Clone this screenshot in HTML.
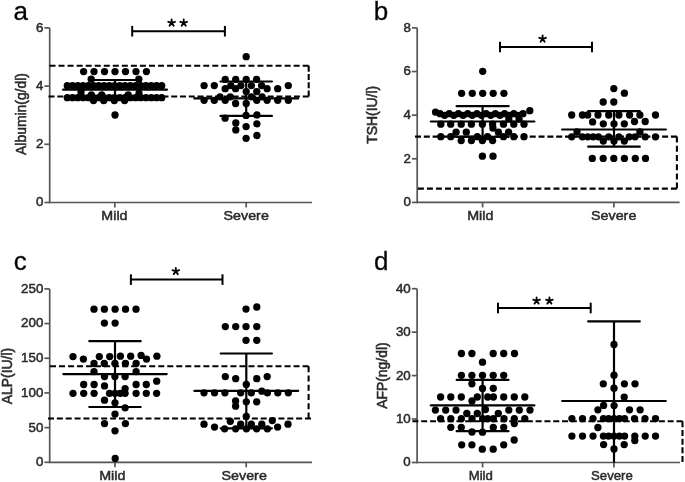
<!DOCTYPE html>
<html><head><meta charset="utf-8"><style>
html,body{margin:0;padding:0;background:#fff;}
svg{display:block;font-family:"Liberation Sans",sans-serif;will-change:transform;filter:blur(0.4px);}
text{stroke:#2a2a2a;stroke-width:0.35px;}
</style></head><body>
<svg width="685" height="482" viewBox="0 0 685 482">
<rect width="685" height="482" fill="#fff"/>
<line x1="49.70" y1="27.90" x2="49.70" y2="203.25" stroke="#555" stroke-width="1.7" />
<line x1="48.95" y1="202.50" x2="312.00" y2="202.50" stroke="#555" stroke-width="1.7" />
<line x1="44.40" y1="202.50" x2="49.70" y2="202.50" stroke="#555" stroke-width="1.7" />
<text x="43.30" y="206.40" font-size="13.3" text-anchor="end" fill="#2a2a2a" style="stroke-width:0.5px">0</text>
<line x1="44.40" y1="144.30" x2="49.70" y2="144.30" stroke="#555" stroke-width="1.7" />
<text x="43.30" y="148.20" font-size="13.3" text-anchor="end" fill="#2a2a2a" style="stroke-width:0.5px">2</text>
<line x1="44.40" y1="86.10" x2="49.70" y2="86.10" stroke="#555" stroke-width="1.7" />
<text x="43.30" y="90.00" font-size="13.3" text-anchor="end" fill="#2a2a2a" style="stroke-width:0.5px">4</text>
<line x1="44.40" y1="27.90" x2="49.70" y2="27.90" stroke="#555" stroke-width="1.7" />
<text x="43.30" y="31.80" font-size="13.3" text-anchor="end" fill="#2a2a2a" style="stroke-width:0.5px">6</text>
<line x1="114.80" y1="202.50" x2="114.80" y2="207.50" stroke="#555" stroke-width="1.7" />
<text x="0" y="0" font-size="13.6" text-anchor="middle" fill="#2a2a2a" style="stroke-width:0.5px" transform="translate(114.45,219.70) scale(1.05,1)">Mild</text>
<line x1="246.20" y1="202.50" x2="246.20" y2="207.50" stroke="#555" stroke-width="1.7" />
<text x="0" y="0" font-size="13.6" text-anchor="middle" fill="#2a2a2a" style="stroke-width:0.5px" transform="translate(246.20,219.70) scale(1.05,1)">Severe</text>
<text x="13.60" y="19.50" font-size="26" text-anchor="start" fill="#000" >a</text>
<text x="0" y="0" font-size="13.9" text-anchor="middle" fill="#2a2a2a" style="stroke-width:0.55px" transform="translate(25.70,114.00) rotate(-90)">Albumin(g/dl)</text>
<line x1="417.20" y1="27.90" x2="417.20" y2="203.15" stroke="#555" stroke-width="1.7" />
<line x1="416.45" y1="202.40" x2="679.60" y2="202.40" stroke="#555" stroke-width="1.7" />
<line x1="411.90" y1="202.40" x2="417.20" y2="202.40" stroke="#555" stroke-width="1.7" />
<text x="410.80" y="206.30" font-size="13.3" text-anchor="end" fill="#2a2a2a" style="stroke-width:0.5px">0</text>
<line x1="411.90" y1="158.78" x2="417.20" y2="158.78" stroke="#555" stroke-width="1.7" />
<text x="410.80" y="162.68" font-size="13.3" text-anchor="end" fill="#2a2a2a" style="stroke-width:0.5px">2</text>
<line x1="411.90" y1="115.15" x2="417.20" y2="115.15" stroke="#555" stroke-width="1.7" />
<text x="410.80" y="119.05" font-size="13.3" text-anchor="end" fill="#2a2a2a" style="stroke-width:0.5px">4</text>
<line x1="411.90" y1="71.53" x2="417.20" y2="71.53" stroke="#555" stroke-width="1.7" />
<text x="410.80" y="75.43" font-size="13.3" text-anchor="end" fill="#2a2a2a" style="stroke-width:0.5px">6</text>
<line x1="411.90" y1="27.90" x2="417.20" y2="27.90" stroke="#555" stroke-width="1.7" />
<text x="410.80" y="31.80" font-size="13.3" text-anchor="end" fill="#2a2a2a" style="stroke-width:0.5px">8</text>
<line x1="482.60" y1="202.40" x2="482.60" y2="207.40" stroke="#555" stroke-width="1.7" />
<text x="0" y="0" font-size="13.6" text-anchor="middle" fill="#2a2a2a" style="stroke-width:0.5px" transform="translate(480.25,219.60) scale(1.05,1)">Mild</text>
<line x1="613.90" y1="202.40" x2="613.90" y2="207.40" stroke="#555" stroke-width="1.7" />
<text x="0" y="0" font-size="13.6" text-anchor="middle" fill="#2a2a2a" style="stroke-width:0.5px" transform="translate(613.70,219.60) scale(1.05,1)">Severe</text>
<text x="373.80" y="20.00" font-size="26" text-anchor="start" fill="#000" >b</text>
<text x="0" y="0" font-size="13.9" text-anchor="middle" fill="#2a2a2a" style="stroke-width:0.55px" transform="translate(376.60,114.80) rotate(-90)">TSH(IU/l)</text>
<line x1="49.70" y1="288.90" x2="49.70" y2="463.05" stroke="#555" stroke-width="1.7" />
<line x1="48.95" y1="462.30" x2="312.00" y2="462.30" stroke="#555" stroke-width="1.7" />
<line x1="44.40" y1="462.30" x2="49.70" y2="462.30" stroke="#555" stroke-width="1.7" />
<text x="43.30" y="466.20" font-size="13.3" text-anchor="end" fill="#2a2a2a" style="stroke-width:0.5px">0</text>
<line x1="44.40" y1="427.62" x2="49.70" y2="427.62" stroke="#555" stroke-width="1.7" />
<text x="43.30" y="431.52" font-size="13.3" text-anchor="end" fill="#2a2a2a" style="stroke-width:0.5px">50</text>
<line x1="44.40" y1="392.94" x2="49.70" y2="392.94" stroke="#555" stroke-width="1.7" />
<text x="43.30" y="396.84" font-size="13.3" text-anchor="end" fill="#2a2a2a" style="stroke-width:0.5px">100</text>
<line x1="44.40" y1="358.26" x2="49.70" y2="358.26" stroke="#555" stroke-width="1.7" />
<text x="43.30" y="362.16" font-size="13.3" text-anchor="end" fill="#2a2a2a" style="stroke-width:0.5px">150</text>
<line x1="44.40" y1="323.58" x2="49.70" y2="323.58" stroke="#555" stroke-width="1.7" />
<text x="43.30" y="327.48" font-size="13.3" text-anchor="end" fill="#2a2a2a" style="stroke-width:0.5px">200</text>
<line x1="44.40" y1="288.90" x2="49.70" y2="288.90" stroke="#555" stroke-width="1.7" />
<text x="43.30" y="292.80" font-size="13.3" text-anchor="end" fill="#2a2a2a" style="stroke-width:0.5px">250</text>
<line x1="115.00" y1="462.30" x2="115.00" y2="467.30" stroke="#555" stroke-width="1.7" />
<text x="0" y="0" font-size="13.6" text-anchor="middle" fill="#2a2a2a" style="stroke-width:0.5px" transform="translate(112.25,479.50) scale(1.05,1)">Mild</text>
<line x1="246.20" y1="462.30" x2="246.20" y2="467.30" stroke="#555" stroke-width="1.7" />
<text x="0" y="0" font-size="13.6" text-anchor="middle" fill="#2a2a2a" style="stroke-width:0.5px" transform="translate(244.20,479.50) scale(1.05,1)">Severe</text>
<text x="13.80" y="270.40" font-size="26" text-anchor="start" fill="#000" >c</text>
<text x="0" y="0" font-size="13.9" text-anchor="middle" fill="#2a2a2a" style="stroke-width:0.55px" transform="translate(11.80,376.00) rotate(-90)">ALP(IU/l)</text>
<line x1="417.10" y1="288.70" x2="417.10" y2="463.25" stroke="#555" stroke-width="1.7" />
<line x1="416.35" y1="462.50" x2="680.00" y2="462.50" stroke="#555" stroke-width="1.7" />
<line x1="411.80" y1="462.50" x2="417.10" y2="462.50" stroke="#555" stroke-width="1.7" />
<text x="410.70" y="466.40" font-size="13.3" text-anchor="end" fill="#2a2a2a" style="stroke-width:0.5px">0</text>
<line x1="411.80" y1="419.05" x2="417.10" y2="419.05" stroke="#555" stroke-width="1.7" />
<text x="410.70" y="422.95" font-size="13.3" text-anchor="end" fill="#2a2a2a" style="stroke-width:0.5px">10</text>
<line x1="411.80" y1="375.60" x2="417.10" y2="375.60" stroke="#555" stroke-width="1.7" />
<text x="410.70" y="379.50" font-size="13.3" text-anchor="end" fill="#2a2a2a" style="stroke-width:0.5px">20</text>
<line x1="411.80" y1="332.15" x2="417.10" y2="332.15" stroke="#555" stroke-width="1.7" />
<text x="410.70" y="336.05" font-size="13.3" text-anchor="end" fill="#2a2a2a" style="stroke-width:0.5px">30</text>
<line x1="411.80" y1="288.70" x2="417.10" y2="288.70" stroke="#555" stroke-width="1.7" />
<text x="410.70" y="292.60" font-size="13.3" text-anchor="end" fill="#2a2a2a" style="stroke-width:0.5px">40</text>
<line x1="482.60" y1="462.50" x2="482.60" y2="467.50" stroke="#555" stroke-width="1.7" />
<text x="0" y="0" font-size="13.6" text-anchor="middle" fill="#2a2a2a" style="stroke-width:0.5px" transform="translate(480.80,479.70) scale(0.97,1)">Mild</text>
<line x1="613.90" y1="462.50" x2="613.90" y2="467.50" stroke="#555" stroke-width="1.7" />
<text x="0" y="0" font-size="13.6" text-anchor="middle" fill="#2a2a2a" style="stroke-width:0.5px" transform="translate(611.90,479.70) scale(0.97,1)">Severe</text>
<text x="373.90" y="270.20" font-size="26" text-anchor="start" fill="#000" >d</text>
<text x="0" y="0" font-size="13.9" text-anchor="middle" fill="#2a2a2a" style="stroke-width:0.55px" transform="translate(387.20,375.60) rotate(-90)">AFP(ng/dl)</text>
<line x1="49.50" y1="65.80" x2="308.70" y2="65.80" stroke="#000" stroke-width="2.05" stroke-dasharray="6.0 3.043"/>
<line x1="308.70" y1="65.80" x2="308.70" y2="96.40" stroke="#000" stroke-width="2.05" stroke-dasharray="6.0 2.200"/>
<line x1="48.50" y1="96.40" x2="308.70" y2="96.40" stroke="#000" stroke-width="2.05" stroke-dasharray="6.0 2.766"/>
<line x1="415.00" y1="136.60" x2="676.90" y2="136.60" stroke="#000" stroke-width="2.05" stroke-dasharray="6.0 2.824"/>
<line x1="676.90" y1="136.60" x2="676.90" y2="188.60" stroke="#000" stroke-width="2.05" stroke-dasharray="6.0 3.200"/>
<line x1="417.90" y1="188.60" x2="676.90" y2="188.60" stroke="#000" stroke-width="2.05" stroke-dasharray="6.0 3.036"/>
<line x1="50.00" y1="366.20" x2="308.60" y2="366.20" stroke="#000" stroke-width="2.05" stroke-dasharray="6.0 3.021"/>
<line x1="308.60" y1="366.20" x2="308.60" y2="418.50" stroke="#000" stroke-width="2.05" stroke-dasharray="6.0 3.260"/>
<line x1="48.00" y1="418.50" x2="311.00" y2="418.50" stroke="#000" stroke-width="2.05" stroke-dasharray="6.0 2.862"/>
<line x1="412.40" y1="421.30" x2="682.50" y2="421.30" stroke="#000" stroke-width="2.05" stroke-dasharray="6.0 2.803"/>
<line x1="682.50" y1="421.30" x2="682.50" y2="462.00" stroke="#000" stroke-width="2.05" stroke-dasharray="6.0 2.675"/>
<g fill="#000"><circle cx="83.60" cy="71.60" r="3.65"/><circle cx="94.00" cy="71.60" r="3.65"/><circle cx="104.50" cy="71.60" r="3.65"/><circle cx="115.00" cy="71.60" r="3.65"/><circle cx="125.50" cy="71.60" r="3.65"/><circle cx="136.00" cy="71.60" r="3.65"/><circle cx="146.40" cy="71.60" r="3.65"/><circle cx="91.20" cy="79.20" r="3.65"/><circle cx="138.80" cy="79.20" r="3.65"/><circle cx="67.30" cy="85.70" r="3.65"/><circle cx="72.54" cy="85.70" r="3.65"/><circle cx="77.79" cy="85.70" r="3.65"/><circle cx="83.03" cy="85.70" r="3.65"/><circle cx="88.28" cy="85.70" r="3.65"/><circle cx="93.52" cy="85.70" r="3.65"/><circle cx="98.77" cy="85.70" r="3.65"/><circle cx="104.01" cy="85.70" r="3.65"/><circle cx="109.26" cy="85.70" r="3.65"/><circle cx="114.50" cy="85.70" r="3.65"/><circle cx="119.74" cy="85.70" r="3.65"/><circle cx="124.99" cy="85.70" r="3.65"/><circle cx="130.23" cy="85.70" r="3.65"/><circle cx="135.48" cy="85.70" r="3.65"/><circle cx="140.72" cy="85.70" r="3.65"/><circle cx="145.97" cy="85.70" r="3.65"/><circle cx="151.21" cy="85.70" r="3.65"/><circle cx="156.46" cy="85.70" r="3.65"/><circle cx="161.70" cy="85.70" r="3.65"/><circle cx="81.00" cy="92.00" r="3.65"/><circle cx="91.40" cy="95.00" r="3.65"/><circle cx="101.70" cy="95.00" r="3.65"/><circle cx="128.20" cy="95.00" r="3.65"/><circle cx="139.00" cy="93.50" r="3.65"/><circle cx="67.30" cy="97.70" r="3.65"/><circle cx="72.54" cy="97.70" r="3.65"/><circle cx="77.79" cy="97.70" r="3.65"/><circle cx="83.03" cy="97.70" r="3.65"/><circle cx="88.28" cy="97.70" r="3.65"/><circle cx="93.52" cy="97.70" r="3.65"/><circle cx="98.77" cy="97.70" r="3.65"/><circle cx="104.01" cy="97.70" r="3.65"/><circle cx="109.26" cy="97.70" r="3.65"/><circle cx="114.50" cy="97.70" r="3.65"/><circle cx="119.74" cy="97.70" r="3.65"/><circle cx="124.99" cy="97.70" r="3.65"/><circle cx="130.23" cy="97.70" r="3.65"/><circle cx="135.48" cy="97.70" r="3.65"/><circle cx="140.72" cy="97.70" r="3.65"/><circle cx="145.97" cy="97.70" r="3.65"/><circle cx="151.21" cy="97.70" r="3.65"/><circle cx="156.46" cy="97.70" r="3.65"/><circle cx="161.70" cy="97.70" r="3.65"/><circle cx="93.50" cy="100.50" r="3.65"/><circle cx="103.70" cy="100.50" r="3.65"/><circle cx="114.30" cy="100.50" r="3.65"/><circle cx="124.60" cy="100.50" r="3.65"/><circle cx="115.00" cy="115.00" r="3.65"/><circle cx="246.20" cy="56.70" r="3.65"/><circle cx="225.20" cy="79.40" r="3.65"/><circle cx="235.70" cy="79.40" r="3.65"/><circle cx="246.20" cy="79.40" r="3.65"/><circle cx="256.60" cy="79.40" r="3.65"/><circle cx="204.10" cy="85.60" r="3.65"/><circle cx="214.30" cy="85.60" r="3.65"/><circle cx="230.80" cy="85.60" r="3.65"/><circle cx="240.90" cy="85.60" r="3.65"/><circle cx="251.40" cy="85.60" r="3.65"/><circle cx="261.60" cy="85.60" r="3.65"/><circle cx="288.30" cy="85.60" r="3.65"/><circle cx="225.20" cy="88.70" r="3.65"/><circle cx="235.60" cy="88.70" r="3.65"/><circle cx="267.10" cy="88.70" r="3.65"/><circle cx="277.70" cy="88.70" r="3.65"/><circle cx="246.20" cy="91.60" r="3.65"/><circle cx="256.80" cy="91.60" r="3.65"/><circle cx="220.00" cy="96.80" r="3.65"/><circle cx="230.30" cy="96.80" r="3.65"/><circle cx="251.50" cy="96.80" r="3.65"/><circle cx="262.10" cy="96.80" r="3.65"/><circle cx="204.10" cy="100.30" r="3.65"/><circle cx="214.30" cy="100.30" r="3.65"/><circle cx="225.20" cy="100.30" r="3.65"/><circle cx="256.80" cy="100.30" r="3.65"/><circle cx="267.10" cy="100.30" r="3.65"/><circle cx="277.70" cy="100.30" r="3.65"/><circle cx="288.30" cy="100.30" r="3.65"/><circle cx="235.60" cy="103.50" r="3.65"/><circle cx="246.20" cy="103.50" r="3.65"/><circle cx="225.10" cy="118.20" r="3.65"/><circle cx="246.10" cy="115.40" r="3.65"/><circle cx="256.90" cy="115.00" r="3.65"/><circle cx="235.80" cy="122.90" r="3.65"/><circle cx="256.90" cy="123.80" r="3.65"/><circle cx="246.10" cy="126.60" r="3.65"/><circle cx="235.80" cy="129.90" r="3.65"/><circle cx="256.90" cy="135.50" r="3.65"/><circle cx="246.10" cy="138.30" r="3.65"/><circle cx="482.70" cy="71.30" r="3.65"/><circle cx="461.60" cy="93.30" r="3.65"/><circle cx="472.30" cy="93.30" r="3.65"/><circle cx="482.70" cy="93.30" r="3.65"/><circle cx="493.20" cy="93.30" r="3.65"/><circle cx="503.90" cy="93.30" r="3.65"/><circle cx="435.50" cy="112.10" r="3.65"/><circle cx="529.80" cy="110.70" r="3.65"/><circle cx="440.00" cy="113.70" r="3.65"/><circle cx="444.61" cy="115.30" r="3.65"/><circle cx="449.22" cy="113.70" r="3.65"/><circle cx="453.83" cy="115.30" r="3.65"/><circle cx="458.44" cy="113.70" r="3.65"/><circle cx="463.06" cy="115.30" r="3.65"/><circle cx="467.67" cy="113.70" r="3.65"/><circle cx="472.28" cy="115.30" r="3.65"/><circle cx="476.89" cy="113.70" r="3.65"/><circle cx="481.50" cy="115.30" r="3.65"/><circle cx="486.11" cy="113.70" r="3.65"/><circle cx="490.72" cy="115.30" r="3.65"/><circle cx="495.33" cy="113.70" r="3.65"/><circle cx="499.94" cy="115.30" r="3.65"/><circle cx="504.56" cy="113.70" r="3.65"/><circle cx="509.17" cy="115.30" r="3.65"/><circle cx="513.78" cy="113.70" r="3.65"/><circle cx="518.39" cy="115.30" r="3.65"/><circle cx="523.00" cy="113.70" r="3.65"/><circle cx="508.80" cy="119.10" r="3.65"/><circle cx="519.10" cy="119.10" r="3.65"/><circle cx="440.80" cy="124.20" r="3.65"/><circle cx="450.70" cy="124.20" r="3.65"/><circle cx="461.20" cy="124.20" r="3.65"/><circle cx="471.40" cy="124.20" r="3.65"/><circle cx="482.40" cy="124.20" r="3.65"/><circle cx="492.60" cy="124.20" r="3.65"/><circle cx="503.50" cy="124.20" r="3.65"/><circle cx="513.80" cy="124.20" r="3.65"/><circle cx="524.00" cy="124.20" r="3.65"/><circle cx="492.90" cy="128.00" r="3.65"/><circle cx="456.10" cy="132.20" r="3.65"/><circle cx="466.30" cy="132.20" r="3.65"/><circle cx="498.40" cy="132.20" r="3.65"/><circle cx="508.60" cy="132.20" r="3.65"/><circle cx="440.80" cy="136.70" r="3.65"/><circle cx="450.70" cy="136.70" r="3.65"/><circle cx="477.30" cy="136.70" r="3.65"/><circle cx="487.50" cy="136.70" r="3.65"/><circle cx="503.50" cy="136.70" r="3.65"/><circle cx="513.80" cy="136.70" r="3.65"/><circle cx="524.00" cy="136.70" r="3.65"/><circle cx="461.20" cy="140.60" r="3.65"/><circle cx="471.40" cy="140.60" r="3.65"/><circle cx="482.40" cy="140.60" r="3.65"/><circle cx="492.60" cy="140.60" r="3.65"/><circle cx="482.40" cy="156.20" r="3.65"/><circle cx="493.00" cy="156.20" r="3.65"/><circle cx="613.80" cy="88.60" r="3.65"/><circle cx="624.40" cy="93.20" r="3.65"/><circle cx="603.20" cy="102.00" r="3.65"/><circle cx="613.80" cy="102.00" r="3.65"/><circle cx="571.70" cy="115.00" r="3.65"/><circle cx="582.40" cy="115.00" r="3.65"/><circle cx="587.70" cy="115.00" r="3.65"/><circle cx="598.00" cy="115.00" r="3.65"/><circle cx="608.70" cy="115.00" r="3.65"/><circle cx="618.90" cy="115.00" r="3.65"/><circle cx="629.60" cy="115.00" r="3.65"/><circle cx="639.90" cy="115.00" r="3.65"/><circle cx="655.50" cy="115.00" r="3.65"/><circle cx="592.60" cy="121.90" r="3.65"/><circle cx="603.30" cy="123.80" r="3.65"/><circle cx="614.00" cy="123.80" r="3.65"/><circle cx="624.30" cy="123.80" r="3.65"/><circle cx="634.50" cy="121.50" r="3.65"/><circle cx="645.20" cy="121.50" r="3.65"/><circle cx="577.00" cy="132.00" r="3.65"/><circle cx="639.90" cy="132.00" r="3.65"/><circle cx="571.70" cy="136.80" r="3.65"/><circle cx="582.40" cy="136.80" r="3.65"/><circle cx="587.70" cy="136.80" r="3.65"/><circle cx="593.10" cy="136.80" r="3.65"/><circle cx="598.40" cy="136.80" r="3.65"/><circle cx="608.70" cy="136.80" r="3.65"/><circle cx="618.90" cy="136.80" r="3.65"/><circle cx="629.20" cy="136.80" r="3.65"/><circle cx="635.00" cy="136.80" r="3.65"/><circle cx="645.20" cy="136.80" r="3.65"/><circle cx="655.50" cy="136.80" r="3.65"/><circle cx="603.30" cy="141.10" r="3.65"/><circle cx="614.00" cy="141.10" r="3.65"/><circle cx="624.30" cy="141.10" r="3.65"/><circle cx="592.30" cy="158.40" r="3.65"/><circle cx="603.20" cy="158.40" r="3.65"/><circle cx="613.80" cy="158.40" r="3.65"/><circle cx="624.40" cy="158.40" r="3.65"/><circle cx="635.30" cy="158.40" r="3.65"/><circle cx="645.50" cy="158.40" r="3.65"/><circle cx="94.00" cy="309.20" r="3.65"/><circle cx="104.40" cy="309.20" r="3.65"/><circle cx="115.10" cy="309.20" r="3.65"/><circle cx="125.50" cy="309.20" r="3.65"/><circle cx="136.00" cy="309.20" r="3.65"/><circle cx="104.40" cy="323.10" r="3.65"/><circle cx="115.10" cy="323.10" r="3.65"/><circle cx="73.00" cy="356.60" r="3.65"/><circle cx="83.40" cy="359.10" r="3.65"/><circle cx="99.30" cy="356.60" r="3.65"/><circle cx="109.70" cy="356.60" r="3.65"/><circle cx="120.40" cy="356.20" r="3.65"/><circle cx="130.70" cy="356.20" r="3.65"/><circle cx="141.10" cy="355.40" r="3.65"/><circle cx="146.50" cy="359.10" r="3.65"/><circle cx="156.90" cy="356.20" r="3.65"/><circle cx="94.00" cy="363.50" r="3.65"/><circle cx="104.30" cy="363.50" r="3.65"/><circle cx="114.90" cy="363.50" r="3.65"/><circle cx="125.40" cy="363.50" r="3.65"/><circle cx="136.10" cy="363.50" r="3.65"/><circle cx="94.00" cy="371.60" r="3.65"/><circle cx="136.10" cy="371.60" r="3.65"/><circle cx="104.50" cy="376.60" r="3.65"/><circle cx="114.90" cy="376.60" r="3.65"/><circle cx="125.10" cy="376.60" r="3.65"/><circle cx="83.70" cy="384.50" r="3.65"/><circle cx="94.10" cy="384.50" r="3.65"/><circle cx="136.10" cy="384.50" r="3.65"/><circle cx="146.30" cy="384.50" r="3.65"/><circle cx="104.50" cy="385.90" r="3.65"/><circle cx="156.70" cy="381.20" r="3.65"/><circle cx="125.10" cy="388.60" r="3.65"/><circle cx="73.00" cy="393.30" r="3.65"/><circle cx="83.70" cy="393.30" r="3.65"/><circle cx="94.10" cy="393.30" r="3.65"/><circle cx="109.50" cy="393.30" r="3.65"/><circle cx="115.00" cy="393.30" r="3.65"/><circle cx="120.30" cy="393.30" r="3.65"/><circle cx="125.10" cy="393.30" r="3.65"/><circle cx="136.10" cy="393.30" r="3.65"/><circle cx="146.30" cy="393.30" r="3.65"/><circle cx="156.60" cy="393.30" r="3.65"/><circle cx="104.50" cy="400.20" r="3.65"/><circle cx="115.00" cy="402.80" r="3.65"/><circle cx="125.10" cy="407.80" r="3.65"/><circle cx="115.00" cy="414.10" r="3.65"/><circle cx="104.50" cy="423.60" r="3.65"/><circle cx="125.40" cy="423.60" r="3.65"/><circle cx="115.00" cy="430.80" r="3.65"/><circle cx="115.20" cy="458.50" r="3.65"/><circle cx="246.00" cy="309.10" r="3.65"/><circle cx="256.80" cy="307.00" r="3.65"/><circle cx="225.30" cy="326.60" r="3.65"/><circle cx="235.70" cy="326.60" r="3.65"/><circle cx="246.00" cy="326.60" r="3.65"/><circle cx="256.80" cy="326.60" r="3.65"/><circle cx="246.00" cy="340.30" r="3.65"/><circle cx="256.80" cy="340.30" r="3.65"/><circle cx="225.30" cy="376.60" r="3.65"/><circle cx="235.70" cy="378.70" r="3.65"/><circle cx="256.80" cy="378.70" r="3.65"/><circle cx="267.20" cy="376.60" r="3.65"/><circle cx="246.30" cy="384.40" r="3.65"/><circle cx="204.00" cy="392.80" r="3.65"/><circle cx="214.50" cy="392.80" r="3.65"/><circle cx="224.90" cy="392.80" r="3.65"/><circle cx="240.70" cy="392.80" r="3.65"/><circle cx="251.30" cy="392.80" r="3.65"/><circle cx="267.40" cy="392.80" r="3.65"/><circle cx="277.80" cy="392.80" r="3.65"/><circle cx="288.30" cy="392.80" r="3.65"/><circle cx="261.80" cy="391.20" r="3.65"/><circle cx="235.60" cy="401.00" r="3.65"/><circle cx="246.30" cy="401.80" r="3.65"/><circle cx="256.70" cy="401.80" r="3.65"/><circle cx="235.60" cy="406.20" r="3.65"/><circle cx="246.30" cy="416.30" r="3.65"/><circle cx="230.30" cy="421.30" r="3.65"/><circle cx="272.30" cy="420.60" r="3.65"/><circle cx="204.00" cy="424.20" r="3.65"/><circle cx="240.70" cy="424.20" r="3.65"/><circle cx="251.30" cy="424.20" r="3.65"/><circle cx="261.80" cy="424.20" r="3.65"/><circle cx="288.00" cy="424.20" r="3.65"/><circle cx="214.50" cy="427.10" r="3.65"/><circle cx="277.60" cy="427.10" r="3.65"/><circle cx="224.60" cy="428.80" r="3.65"/><circle cx="235.60" cy="428.80" r="3.65"/><circle cx="246.40" cy="428.80" r="3.65"/><circle cx="256.60" cy="428.80" r="3.65"/><circle cx="267.40" cy="428.80" r="3.65"/><circle cx="461.40" cy="353.50" r="3.65"/><circle cx="471.90" cy="353.50" r="3.65"/><circle cx="493.20" cy="353.50" r="3.65"/><circle cx="503.70" cy="353.50" r="3.65"/><circle cx="514.50" cy="353.50" r="3.65"/><circle cx="482.50" cy="362.20" r="3.65"/><circle cx="461.40" cy="375.30" r="3.65"/><circle cx="471.90" cy="375.30" r="3.65"/><circle cx="482.50" cy="375.30" r="3.65"/><circle cx="493.20" cy="375.30" r="3.65"/><circle cx="503.70" cy="375.30" r="3.65"/><circle cx="471.90" cy="383.80" r="3.65"/><circle cx="482.50" cy="388.40" r="3.65"/><circle cx="493.30" cy="388.30" r="3.65"/><circle cx="440.60" cy="397.00" r="3.65"/><circle cx="450.80" cy="397.00" r="3.65"/><circle cx="461.30" cy="397.00" r="3.65"/><circle cx="477.30" cy="397.00" r="3.65"/><circle cx="487.70" cy="397.00" r="3.65"/><circle cx="493.40" cy="397.00" r="3.65"/><circle cx="503.70" cy="397.00" r="3.65"/><circle cx="514.30" cy="397.00" r="3.65"/><circle cx="524.80" cy="397.00" r="3.65"/><circle cx="472.00" cy="401.00" r="3.65"/><circle cx="485.40" cy="409.50" r="3.65"/><circle cx="435.40" cy="410.10" r="3.65"/><circle cx="445.70" cy="410.10" r="3.65"/><circle cx="456.00" cy="410.10" r="3.65"/><circle cx="508.80" cy="410.10" r="3.65"/><circle cx="519.30" cy="410.10" r="3.65"/><circle cx="530.00" cy="410.10" r="3.65"/><circle cx="466.80" cy="413.50" r="3.65"/><circle cx="477.30" cy="413.50" r="3.65"/><circle cx="498.30" cy="413.50" r="3.65"/><circle cx="440.60" cy="418.70" r="3.65"/><circle cx="450.80" cy="418.70" r="3.65"/><circle cx="461.30" cy="418.70" r="3.65"/><circle cx="472.00" cy="418.70" r="3.65"/><circle cx="487.70" cy="418.70" r="3.65"/><circle cx="493.40" cy="418.70" r="3.65"/><circle cx="504.00" cy="418.70" r="3.65"/><circle cx="514.30" cy="418.70" r="3.65"/><circle cx="524.80" cy="418.70" r="3.65"/><circle cx="514.30" cy="423.50" r="3.65"/><circle cx="482.60" cy="418.70" r="3.65"/><circle cx="450.80" cy="427.30" r="3.65"/><circle cx="461.30" cy="427.30" r="3.65"/><circle cx="493.30" cy="427.30" r="3.65"/><circle cx="503.70" cy="427.30" r="3.65"/><circle cx="472.00" cy="432.00" r="3.65"/><circle cx="482.50" cy="432.20" r="3.65"/><circle cx="514.20" cy="440.00" r="3.65"/><circle cx="461.70" cy="444.80" r="3.65"/><circle cx="471.90" cy="444.80" r="3.65"/><circle cx="503.70" cy="444.80" r="3.65"/><circle cx="482.30" cy="449.20" r="3.65"/><circle cx="493.20" cy="449.20" r="3.65"/><circle cx="614.00" cy="344.50" r="3.65"/><circle cx="614.00" cy="375.20" r="3.65"/><circle cx="603.30" cy="383.80" r="3.65"/><circle cx="624.40" cy="383.80" r="3.65"/><circle cx="635.00" cy="383.80" r="3.65"/><circle cx="614.00" cy="388.20" r="3.65"/><circle cx="624.20" cy="397.10" r="3.65"/><circle cx="603.60" cy="405.40" r="3.65"/><circle cx="614.10" cy="405.60" r="3.65"/><circle cx="597.90" cy="409.80" r="3.65"/><circle cx="629.50" cy="409.80" r="3.65"/><circle cx="640.10" cy="409.80" r="3.65"/><circle cx="571.90" cy="418.60" r="3.65"/><circle cx="582.50" cy="418.60" r="3.65"/><circle cx="593.00" cy="418.60" r="3.65"/><circle cx="603.40" cy="418.60" r="3.65"/><circle cx="608.60" cy="418.60" r="3.65"/><circle cx="614.00" cy="418.60" r="3.65"/><circle cx="619.40" cy="418.60" r="3.65"/><circle cx="624.60" cy="418.60" r="3.65"/><circle cx="634.50" cy="418.60" r="3.65"/><circle cx="645.00" cy="418.60" r="3.65"/><circle cx="655.50" cy="418.60" r="3.65"/><circle cx="597.90" cy="427.50" r="3.65"/><circle cx="571.90" cy="436.10" r="3.65"/><circle cx="582.50" cy="436.10" r="3.65"/><circle cx="593.00" cy="436.10" r="3.65"/><circle cx="603.40" cy="436.10" r="3.65"/><circle cx="608.60" cy="436.10" r="3.65"/><circle cx="614.00" cy="436.10" r="3.65"/><circle cx="619.40" cy="436.10" r="3.65"/><circle cx="624.60" cy="436.10" r="3.65"/><circle cx="634.80" cy="436.10" r="3.65"/><circle cx="645.20" cy="436.10" r="3.65"/><circle cx="655.50" cy="436.10" r="3.65"/><circle cx="634.80" cy="440.50" r="3.65"/><circle cx="603.60" cy="444.60" r="3.65"/><circle cx="624.20" cy="444.60" r="3.65"/><circle cx="614.00" cy="449.00" r="3.65"/></g>
<line x1="63.10" y1="89.70" x2="166.90" y2="89.70" stroke="#000" stroke-width="2.2" stroke-linecap="round"/>
<line x1="89.30" y1="80.00" x2="140.70" y2="80.00" stroke="#000" stroke-width="2.2" stroke-linecap="round"/>
<line x1="89.30" y1="99.40" x2="140.70" y2="99.40" stroke="#000" stroke-width="2.2" stroke-linecap="round"/>
<line x1="115.00" y1="80.00" x2="115.00" y2="99.40" stroke="#000" stroke-width="2.2" />
<line x1="194.30" y1="98.40" x2="298.10" y2="98.40" stroke="#000" stroke-width="2.2" stroke-linecap="round"/>
<line x1="220.50" y1="81.50" x2="271.90" y2="81.50" stroke="#000" stroke-width="2.2" stroke-linecap="round"/>
<line x1="220.50" y1="115.90" x2="271.90" y2="115.90" stroke="#000" stroke-width="2.2" stroke-linecap="round"/>
<line x1="246.20" y1="81.50" x2="246.20" y2="115.90" stroke="#000" stroke-width="2.2" />
<line x1="430.80" y1="121.50" x2="534.40" y2="121.50" stroke="#000" stroke-width="2.2" stroke-linecap="round"/>
<line x1="456.60" y1="106.20" x2="508.60" y2="106.20" stroke="#000" stroke-width="2.2" stroke-linecap="round"/>
<line x1="456.60" y1="136.80" x2="508.60" y2="136.80" stroke="#000" stroke-width="2.2" stroke-linecap="round"/>
<line x1="482.60" y1="106.20" x2="482.60" y2="136.80" stroke="#000" stroke-width="2.2" />
<line x1="562.10" y1="129.50" x2="665.90" y2="129.50" stroke="#000" stroke-width="2.2" stroke-linecap="round"/>
<line x1="588.20" y1="111.20" x2="639.80" y2="111.20" stroke="#000" stroke-width="2.2" stroke-linecap="round"/>
<line x1="588.20" y1="146.70" x2="639.80" y2="146.70" stroke="#000" stroke-width="2.2" stroke-linecap="round"/>
<line x1="614.00" y1="111.20" x2="614.00" y2="146.70" stroke="#000" stroke-width="2.2" />
<line x1="63.30" y1="374.10" x2="166.70" y2="374.10" stroke="#000" stroke-width="2.2" stroke-linecap="round"/>
<line x1="89.30" y1="341.20" x2="140.70" y2="341.20" stroke="#000" stroke-width="2.2" stroke-linecap="round"/>
<line x1="89.30" y1="407.00" x2="140.70" y2="407.00" stroke="#000" stroke-width="2.2" stroke-linecap="round"/>
<line x1="115.00" y1="341.20" x2="115.00" y2="407.00" stroke="#000" stroke-width="2.2" />
<line x1="194.40" y1="390.80" x2="298.20" y2="390.80" stroke="#000" stroke-width="2.2" stroke-linecap="round"/>
<line x1="220.70" y1="353.50" x2="271.90" y2="353.50" stroke="#000" stroke-width="2.2" stroke-linecap="round"/>
<line x1="220.70" y1="428.30" x2="271.90" y2="428.30" stroke="#000" stroke-width="2.2" stroke-linecap="round"/>
<line x1="246.30" y1="353.50" x2="246.30" y2="428.30" stroke="#000" stroke-width="2.2" />
<line x1="430.80" y1="405.40" x2="534.40" y2="405.40" stroke="#000" stroke-width="2.2" stroke-linecap="round"/>
<line x1="456.70" y1="379.90" x2="508.50" y2="379.90" stroke="#000" stroke-width="2.2" stroke-linecap="round"/>
<line x1="456.70" y1="431.20" x2="508.50" y2="431.20" stroke="#000" stroke-width="2.2" stroke-linecap="round"/>
<line x1="482.60" y1="379.90" x2="482.60" y2="431.20" stroke="#000" stroke-width="2.2" />
<line x1="562.20" y1="401.00" x2="665.80" y2="401.00" stroke="#000" stroke-width="2.2" stroke-linecap="round"/>
<line x1="588.20" y1="321.40" x2="639.80" y2="321.40" stroke="#000" stroke-width="2.2" stroke-linecap="round"/>
<line x1="614.00" y1="321.40" x2="614.00" y2="462.50" stroke="#000" stroke-width="2.2" />
<line x1="132.20" y1="31.20" x2="224.90" y2="31.20" stroke="#000" stroke-width="2" />
<line x1="132.20" y1="25.90" x2="132.20" y2="36.50" stroke="#000" stroke-width="2" />
<line x1="224.90" y1="25.90" x2="224.90" y2="36.50" stroke="#000" stroke-width="2" />
<path d="M171.60 22.90L171.60 19.40M171.60 22.90L174.93 21.82M171.60 22.90L173.66 25.73M171.60 22.90L169.54 25.73M171.60 22.90L168.27 21.82" stroke="#000" stroke-width="1.85" stroke-linecap="round" fill="none"/>
<path d="M183.70 22.90L183.70 19.40M183.70 22.90L187.03 21.82M183.70 22.90L185.76 25.73M183.70 22.90L181.64 25.73M183.70 22.90L180.37 21.82" stroke="#000" stroke-width="1.85" stroke-linecap="round" fill="none"/>
<line x1="500.00" y1="47.00" x2="592.00" y2="47.00" stroke="#000" stroke-width="2" />
<line x1="500.00" y1="41.70" x2="500.00" y2="52.30" stroke="#000" stroke-width="2" />
<line x1="592.00" y1="41.70" x2="592.00" y2="52.30" stroke="#000" stroke-width="2" />
<path d="M542.60 38.90L542.60 35.40M542.60 38.90L545.93 37.82M542.60 38.90L544.66 41.73M542.60 38.90L540.54 41.73M542.60 38.90L539.27 37.82" stroke="#000" stroke-width="1.85" stroke-linecap="round" fill="none"/>
<line x1="130.90" y1="279.60" x2="222.50" y2="279.60" stroke="#000" stroke-width="2" />
<line x1="130.90" y1="274.30" x2="130.90" y2="284.90" stroke="#000" stroke-width="2" />
<line x1="222.50" y1="274.30" x2="222.50" y2="284.90" stroke="#000" stroke-width="2" />
<path d="M175.80 271.30L175.80 267.80M175.80 271.30L179.13 270.22M175.80 271.30L177.86 274.13M175.80 271.30L173.74 274.13M175.80 271.30L172.47 270.22" stroke="#000" stroke-width="1.85" stroke-linecap="round" fill="none"/>
<line x1="498.00" y1="308.00" x2="590.70" y2="308.00" stroke="#000" stroke-width="2" />
<line x1="498.00" y1="302.70" x2="498.00" y2="313.30" stroke="#000" stroke-width="2" />
<line x1="590.70" y1="302.70" x2="590.70" y2="313.30" stroke="#000" stroke-width="2" />
<path d="M536.60 300.80L536.60 297.30M536.60 300.80L539.93 299.72M536.60 300.80L538.66 303.63M536.60 300.80L534.54 303.63M536.60 300.80L533.27 299.72" stroke="#000" stroke-width="1.85" stroke-linecap="round" fill="none"/>
<path d="M549.40 300.80L549.40 297.30M549.40 300.80L552.73 299.72M549.40 300.80L551.46 303.63M549.40 300.80L547.34 303.63M549.40 300.80L546.07 299.72" stroke="#000" stroke-width="1.85" stroke-linecap="round" fill="none"/>
</svg>
</body></html>
